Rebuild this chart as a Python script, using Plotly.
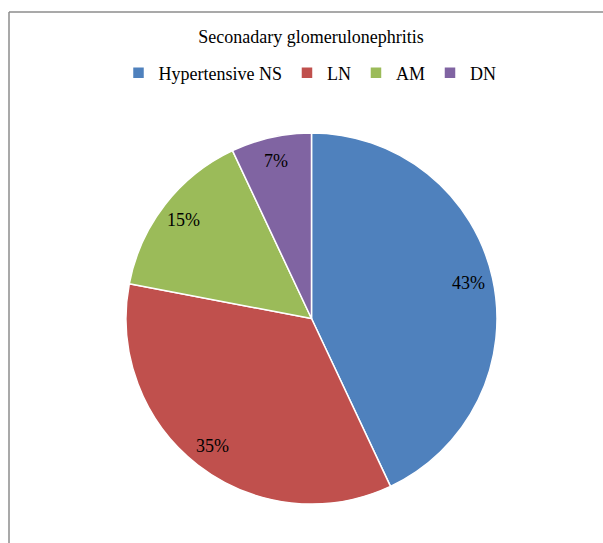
import math
import plotly.graph_objects as go

labels = ["Hypertensive NS", "LN", "AM", "DN"]
values = [43, 35, 15, 7]
colors = ["#4F81BD", "#C0504D", "#9BBB59", "#8064A2"]
title_text = "Seconadary glomerulonephritis"

W, H = 603, 543
mt, mb = 133, 39
pie_left, pie_right = 126, 497  # pixel extent of the pie domain
pw = W
ph = H - mt - mb
R = min(pie_right - pie_left, ph) / 2
cx = (pie_left + pie_right) / 2 / W
LABEL_R = 0.87  # label distance as fraction of radius

fig = go.Figure(go.Pie(
    labels=labels, values=values, sort=False, direction="clockwise", rotation=0,
    domain=dict(x=[pie_left / W, pie_right / W], y=[0, 1]),
    marker=dict(colors=colors, line=dict(color="white", width=1.5)),
    textinfo="none",
    hoverinfo="label+percent",
))

# percentage labels placed along each slice's mid-angle
total = sum(values)
annotations = []
cum = 0
for v in values:
    mid = (cum + v / 2) / total * 2 * math.pi
    cum += v
    annotations.append(dict(
        x=cx + LABEL_R * math.sin(mid) * R / pw,
        y=0.5 + LABEL_R * math.cos(mid) * R / ph,
        xref="paper", yref="paper", showarrow=False,
        text=f"{round(v / total * 100)}%",
        font=dict(family="Liberation Serif", size=18, color="black"),
        xanchor="center", yanchor="middle",
    ))

fx = lambda px: px / pw
fy = lambda py: 1 - (py - mt) / ph

fig.update_layout(
    width=W, height=H, margin=dict(l=0, r=0, t=mt, b=mb),
    paper_bgcolor="white", plot_bgcolor="white",
    font=dict(family="Liberation Serif", color="black"),
    title=dict(text=title_text, x=311 / W, xanchor="center", y=1 - 37 / H, yanchor="middle",
               yref="container", font=dict(size=18, family="Liberation Serif")),
    legend=dict(orientation="h", xref="paper", yref="paper", x=fx(310), xanchor="center",
                y=fy(73), yanchor="middle", font=dict(size=18, family="Liberation Serif"),
                itemwidth=30, traceorder="normal"),
    annotations=annotations,
    shapes=[
        dict(type="line", xref="paper", yref="paper", x0=fx(9), x1=fx(9), y0=fy(12), y1=fy(H + 5),
             line=dict(color="#8c8c8c", width=1.5)),
        dict(type="line", xref="paper", yref="paper", x0=fx(9), x1=fx(W + 5), y0=fy(12), y1=fy(12),
             line=dict(color="#8c8c8c", width=1.5)),
    ],
)

fig.write_html("out.html")
